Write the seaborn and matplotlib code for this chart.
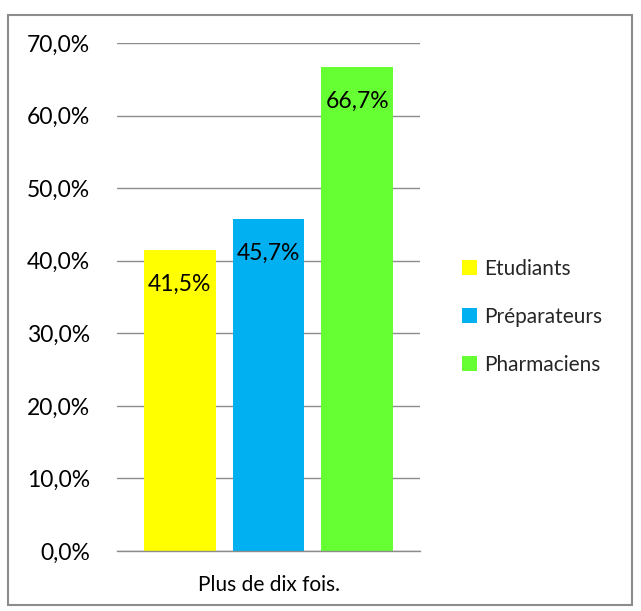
import matplotlib
matplotlib.use("Agg")
import matplotlib.pyplot as plt
from matplotlib.patches import Rectangle
from matplotlib.ticker import FuncFormatter
import seaborn as sns
import pandas as pd

# Chart data
category = ["Plus de dix fois."]
groups = ["Etudiants", "Préparateurs", "Pharmaciens"]
values = [41.5, 45.7, 66.7]
colors = ["#FFFF00", "#00B0F0", "#66FF33"]

sns.set_theme(style="white")
plt.rcParams["font.family"] = ["Lato", "DejaVu Sans"]

df = pd.DataFrame({
    "cat": category * len(groups),
    "groupe": groups,
    "valeur": values,
})

fig = plt.figure(figsize=(6.41, 6.11), dpi=100)
ax = fig.add_axes([117 / 641, 1 - 551 / 611, 303 / 641, 508 / 611])

sns.barplot(data=df, x="cat", y="valeur", hue="groupe", hue_order=groups,
            palette=colors, width=0.88, gap=0.19, saturation=1,
            edgecolor="none", ax=ax, legend=True)

ax.set_ylim(0, 70)
ax.set_yticks(range(0, 71, 10))
ax.yaxis.set_major_formatter(FuncFormatter(lambda v, _: f"{v:.1f}%".replace(".", ",")))
ax.set_xlim(-0.5, 0.5)
ax.set_xlabel("")
ax.set_ylabel("")
ax.grid(axis="y", color="#8c8c8c", linewidth=1)
ax.set_axisbelow(True)
for s in ["top", "right", "left"]:
    ax.spines[s].set_visible(False)
ax.spines["bottom"].set_color("#8c8c8c")
ax.spines["bottom"].set_linewidth(1)
ax.tick_params(axis="both", length=0, colors="black")
ax.tick_params(axis="y", pad=19.5, labelsize=16.5)
ax.tick_params(axis="x", pad=17, labelsize=15)

# value labels inside the top of each bar
for cont, v in zip(ax.containers, values):
    for bar in cont:
        ax.annotate(f"{v:.1f}%".replace(".", ","),
                    (bar.get_x() + bar.get_width() / 2, bar.get_height()),
                    xytext=(0, -17), textcoords="offset points",
                    ha="center", va="top", fontsize=16.5, color="black")

leg = ax.get_legend()
handles = leg.legend_handles
leg.remove()
fig.legend(handles, groups, loc="center left", bbox_to_anchor=(443 / 641, 1 - 317 / 611),
           frameon=False, fontsize=15, handlelength=0.75, handleheight=0.75,
           handletextpad=0.3, labelspacing=1.35)

# outer chart border
fig.add_artist(Rectangle((8 / 641, 1 - 605 / 611), 624 / 641, 590 / 611,
                         transform=fig.transFigure, fill=False,
                         edgecolor="#8c8c8c", linewidth=1.5))

fig.savefig("out.png", dpi=100)
